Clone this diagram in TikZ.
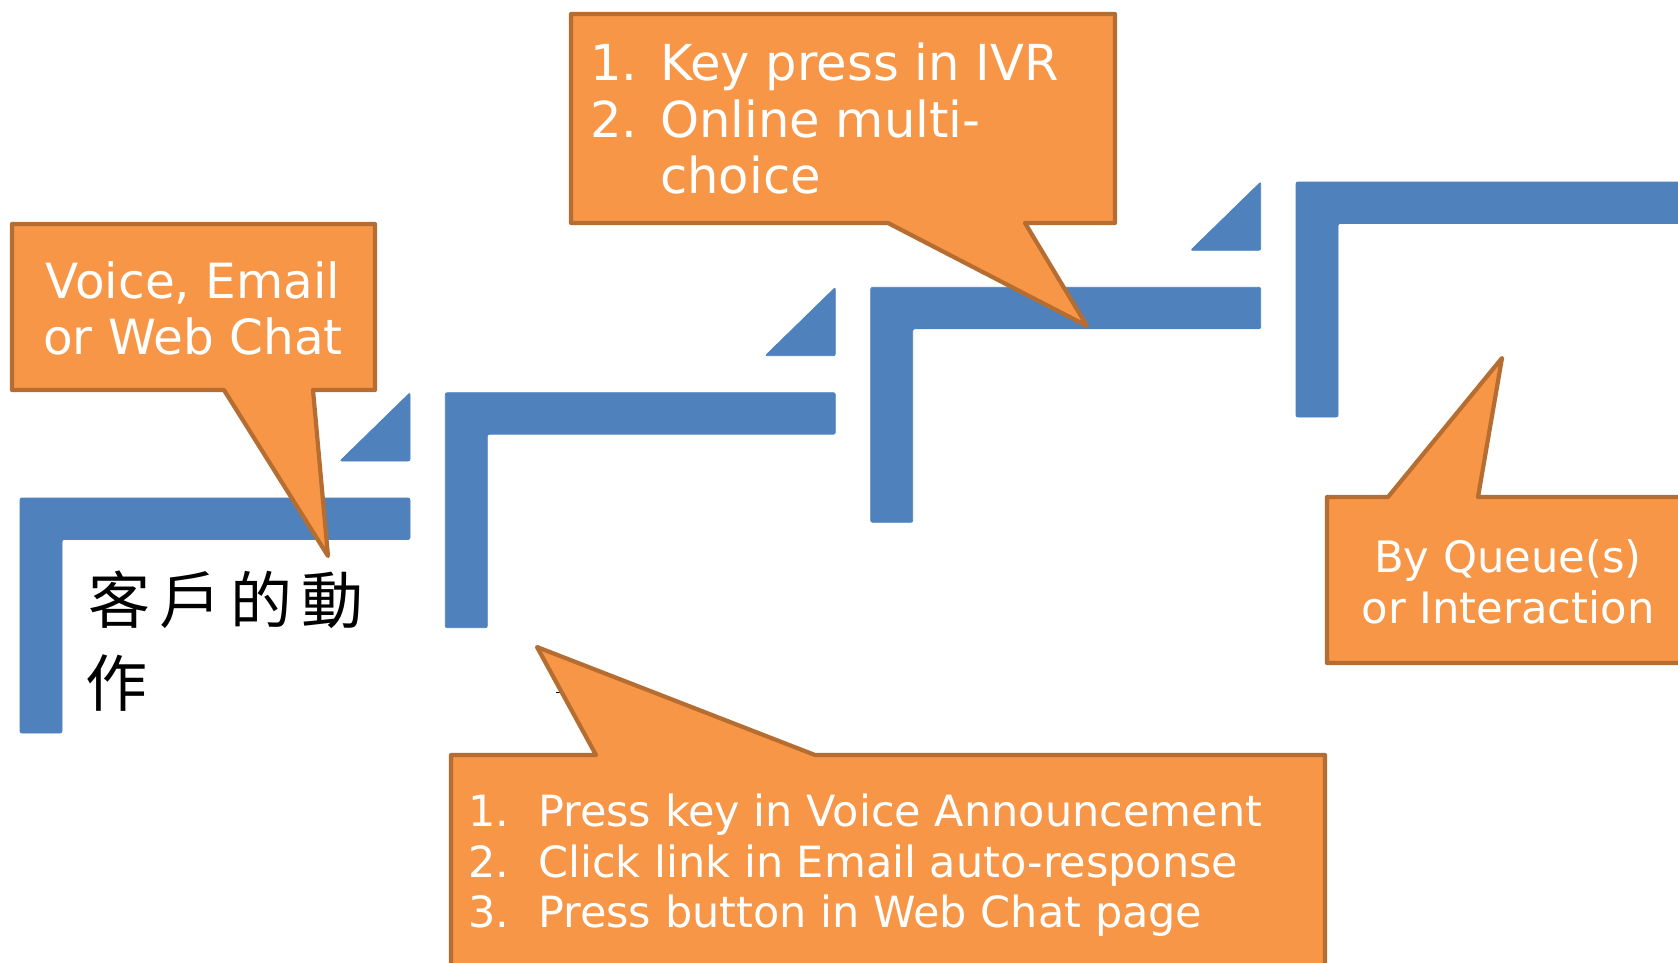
\documentclass[tikz,border=0pt]{standalone}
\usepackage{fontspec}
\setmainfont{DejaVu Sans}
\newfontfamily\cjk{Noto Sans CJK TC}
\definecolor{stepblue}{RGB}{79,129,189}
\definecolor{calloutfill}{RGB}{247,150,70}
\definecolor{calloutedge}{RGB}{182,109,49}
\tikzset{
  stair/.style={fill=stepblue, draw=stepblue, line width=0.8pt, rounded corners=2pt},
  callout/.style={fill=calloutfill, draw=calloutedge, line width=4.2pt, line join=round},
  lbl/.style={text=white, inner sep=0pt},
  lblbig/.style={lbl, font=\fontsize{48.5}{56}\selectfont},
  lblivr/.style={lbl, font=\fontsize{49.6}{57}\selectfont},
  lblsmall/.style={lbl, font=\fontsize{43}{50}\selectfont},
  lblqueue/.style={lbl, font=\fontsize{43.3}{51}\selectfont},
  cjktext/.style={inner sep=0pt, anchor=base west, font=\cjk\fontsize{62}{83}\selectfont},
}
\newcommand{\itemno}[1]{\makebox[70pt][l]{#1}}
\begin{document}
\begin{tikzpicture}[x=1pt,y=-1pt]
\path[clip] (0,0) rectangle (1678,962);
\fill[white] (0,0) rectangle (1678,962);

% four stairs, each an L-shaped bar
\foreach \x/\y/\len in {20/498/390, 445.3/392.7/390, 870.7/287.3/390, 1296/182/430}{
  \fill[stair] (\x,\y) -- (\x+\len,\y) -- (\x+\len,\y+41.5) -- (\x+42,\y+41.5)
               -- (\x+42,\y+235) -- (\x,\y+235) -- cycle;
}
% small triangles in front of each riser
\foreach \x/\y in {20/498, 445.3/392.7, 870.7/287.3}{
  \fill[stair] (\x+320,\y-37) -- (\x+390,\y-37) -- (\x+390,\y-105.3) -- cycle;
}

% caption inside the first stair
\node[cjktext] (cn1) at (88,623) {客\hspace{9pt}戶\hspace{9pt}的\hspace{9pt}動};
\node[cjktext] (cn2) at (85,706) {作};

\draw[line width=1.2pt] (556,692.5) -- (562,692.5);

% callouts
\draw[callout] (12,224) -- (375,224) -- (375,390) -- (313,390) -- (328,556)
               -- (224,390) -- (12,390) -- cycle;
\draw[callout] (571,14) -- (1115,14) -- (1115,223) -- (1025,223) -- (1087,326)
               -- (888,223) -- (571,223) -- cycle;
\draw[callout] (451,755) -- (596,755) -- (537,647) -- (815,755) -- (1325,755)
               -- (1325,1000) -- (451,1000) -- cycle;
\draw[callout] (1327,497) -- (1388,497) -- (1502,358) -- (1478,497) -- (1710,497)
               -- (1710,663) -- (1327,663) -- cycle;

% callout texts
\node[lblbig, anchor=base] (a1) at (193,298) {Voice, Email};
\node[lblbig, anchor=base] (a2) at (193,354) {or Web Chat};

\node[lblivr, anchor=base west] (b1) at (590,80) {\itemno{1.}Key press in IVR};
\node[lblivr, anchor=base west] (b2) at (590,137) {\itemno{2.}Online multi-};
\node[lblivr, anchor=base west] (b3) at (590,193) {\itemno{}choice};

\node[lblsmall, anchor=base west] (c1) at (468,826) {\itemno{1.}Press key in Voice Announcement};
\node[lblsmall, anchor=base west] (c2) at (468,877) {\itemno{2.}Click link in Email auto-response};
\node[lblsmall, anchor=base west] (c3) at (468,927) {\itemno{3.}Press button in Web Chat page};

\node[lblqueue, anchor=base] (d1) at (1508,572) {By Queue(s)};
\node[lblqueue, anchor=base] (d2) at (1508,623) {or Interaction};
\end{tikzpicture}
\end{document}
